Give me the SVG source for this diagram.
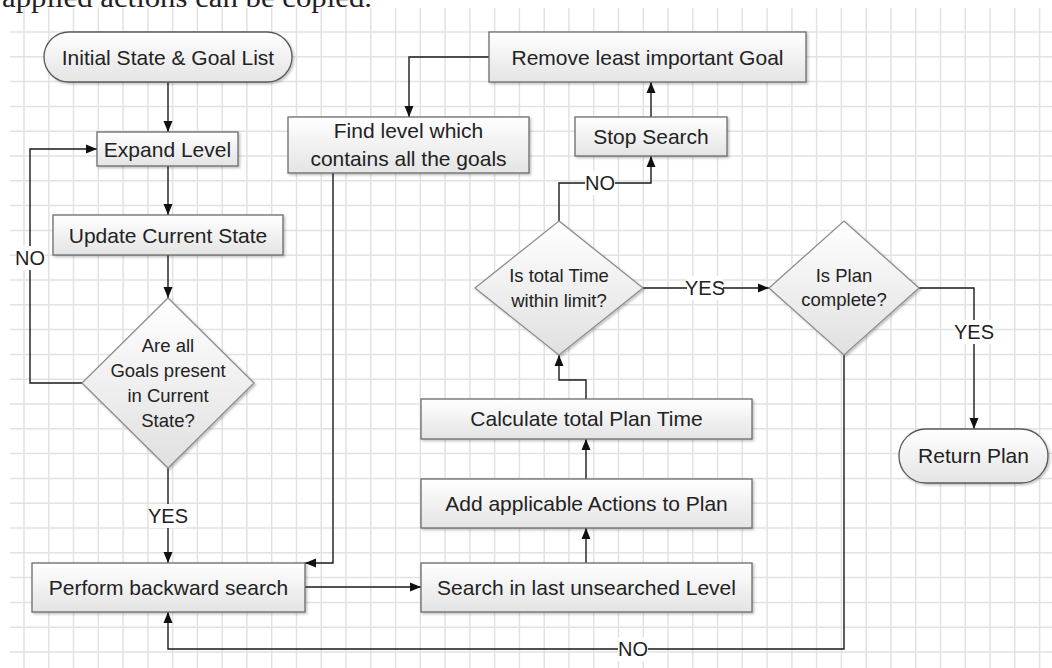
<svg xmlns="http://www.w3.org/2000/svg" width="1052" height="668" viewBox="0 0 1052 668">
<style>
.grid{stroke:#e2e2e2;stroke-width:1.5;fill:none}
.box{fill:url(#gBox);stroke:#6a6a6a;stroke-width:1.3;filter:url(#sh)}
.term{fill:url(#gBox);stroke:#5a5a5a;stroke-width:1.3;filter:url(#sh)}
.dia{fill:url(#gDia);stroke:#8e8e8e;stroke-width:1.3;filter:url(#sh)}
.t{font-family:"Liberation Sans",Arial,sans-serif;font-size:21px;fill:#222;text-anchor:middle}
.td{font-family:"Liberation Sans",Arial,sans-serif;font-size:18.5px;fill:#222;text-anchor:middle}
.lbl{font-family:"Liberation Sans",Arial,sans-serif;font-size:20px;fill:#222;text-anchor:middle}
.c{fill:none;stroke:#1a1a1a;stroke-width:1.4}
.ca{fill:none;stroke:#1a1a1a;stroke-width:1.4;marker-end:url(#arr)}
.bg{fill:#fff}
</style>
<defs>
<linearGradient id="gBox" x1="0" y1="0" x2="0" y2="1"><stop offset="0" stop-color="#ffffff"/><stop offset="1" stop-color="#e4e4e4"/></linearGradient>
<linearGradient id="gDia" x1="0" y1="0" x2="0" y2="1"><stop offset="0" stop-color="#ffffff"/><stop offset="1" stop-color="#e0e0e0"/></linearGradient>
<filter id="sh" x="-10%" y="-10%" width="125%" height="130%"><feDropShadow dx="1.5" dy="1.5" stdDeviation="1.2" flood-color="#000" flood-opacity="0.25"/></filter>
<marker id="arr" markerUnits="userSpaceOnUse" markerWidth="12" markerHeight="10" refX="11" refY="5" orient="auto"><path d="M0,0.5 L11,5 L0,9.5 Z" fill="#111"/></marker>
</defs>
<rect width="1052" height="668" fill="#fff"/>
<text x="2" y="7" font-family="Liberation Serif,serif" font-size="28" fill="#222" textLength="370" lengthAdjust="spacingAndGlyphs">applied actions can be copied.</text>
<g id="grid" class="grid">
<path d="M24,8V668M48.8,8V668M73.5,8V668M98.3,8V668M123.1,8V668M147.9,8V668M172.6,8V668M197.4,8V668M222.2,8V668M246.9,8V668M271.7,8V668M296.5,8V668M321.2,8V668M346,8V668M370.8,8V668M395.6,8V668M420.3,8V668M445.1,8V668M469.9,8V668M494.6,8V668M519.4,8V668M544.2,8V668M568.9,8V668M593.7,8V668M618.5,8V668M643.3,8V668M668,8V668M692.8,8V668M717.6,8V668M742.3,8V668M767.1,8V668M791.9,8V668M816.6,8V668M841.4,8V668M866.2,8V668M891,8V668M915.7,8V668M940.5,8V668M965.3,8V668M990,8V668M1014.8,8V668M1039.6,8V668"/>
<path d="M10,32H1052M10,56.8H1052M10,81.6H1052M10,106.4H1052M10,131.2H1052M10,156H1052M10,180.8H1052M10,205.6H1052M10,230.4H1052M10,255.2H1052M10,280H1052M10,304.8H1052M10,329.6H1052M10,354.4H1052M10,379.2H1052M10,404H1052M10,428.8H1052M10,453.6H1052M10,478.4H1052M10,503.2H1052M10,528H1052M10,552.8H1052M10,577.6H1052M10,602.4H1052M10,627.2H1052M10,652H1052"/>
</g>
<g id="connectors">
<path class="ca" d="M168,82V132"/>
<path class="ca" d="M168,166V215"/>
<path class="ca" d="M168,255V298"/>
<path class="ca" d="M82,383H30V149H97"/>
<path class="ca" d="M168,468V563"/>
<path class="ca" d="M333,173V563H305"/>
<path class="ca" d="M305,587H421"/>
<path class="ca" d="M586,563V528"/>
<path class="ca" d="M586,479V439"/>
<path class="ca" d="M586,399V380H559V355"/>
<path class="ca" d="M559,221V183H651V156"/>
<path class="ca" d="M651,117V82"/>
<path class="ca" d="M489,57H409V117"/>
<path class="ca" d="M643,288H769"/>
<path class="ca" d="M919,288H974V429"/>
<path class="ca" d="M844,355V649H168V612"/>
<rect class="bg" x="16" y="246" width="29" height="24"/>
<text class="lbl" x="30" y="265">NO</text>
<rect class="bg" x="150" y="504" width="36" height="24"/>
<text class="lbl" x="168" y="523">YES</text>
<rect class="bg" x="585" y="171" width="30" height="24"/>
<text class="lbl" x="600" y="190">NO</text>
<rect class="bg" x="687" y="276" width="36" height="24"/>
<text class="lbl" x="705" y="295">YES</text>
<rect class="bg" x="956" y="320" width="36" height="24"/>
<text class="lbl" x="974" y="339">YES</text>
<rect class="bg" x="618" y="637" width="30" height="24"/>
<text class="lbl" x="633" y="656">NO</text>
</g>
<g id="n-initial"><rect class="term" x="44" y="32" width="248" height="50" rx="25"/><text class="t" x="168" y="64.5">Initial State &amp; Goal List</text></g>
<g id="n-expand"><rect class="box" x="97" y="132" width="141" height="34"/><text class="t" x="167.5" y="156.5">Expand Level</text></g>
<g id="n-update"><rect class="box" x="53" y="215" width="230" height="40"/><text class="t" x="168" y="242.5">Update Current State</text></g>
<g id="n-goals"><polygon class="dia" points="168,298 254,383 168,468 82,383"/><text class="td" x="168" y="352">Are all</text><text class="td" x="168" y="377">Goals present</text><text class="td" x="168" y="402">in Current</text><text class="td" x="168" y="427">State?</text></g>
<g id="n-perform"><rect class="box" x="32" y="563" width="273" height="49"/><text class="t" x="168.5" y="595">Perform backward search</text></g>
<g id="n-find"><rect class="box" x="288" y="117" width="241" height="56"/><text class="t" x="408.5" y="137.5">Find level which</text><text class="t" x="408.5" y="165.5">contains all the goals</text></g>
<g id="n-remove"><rect class="box" x="489" y="32" width="317" height="50"/><text class="t" x="647.5" y="64.5">Remove least important Goal</text></g>
<g id="n-stop"><rect class="box" x="575" y="117" width="152" height="39"/><text class="t" x="651" y="143.5">Stop Search</text></g>
<g id="n-time"><polygon class="dia" points="559,221 643,288 559,355 475,288"/><text class="td" x="559" y="281.5">Is total Time</text><text class="td" x="559" y="306.5">within limit?</text></g>
<g id="n-complete"><polygon class="dia" points="844,221 919,288 844,355 769,288"/><text class="td" x="844" y="281.5">Is Plan</text><text class="td" x="844" y="306">complete?</text></g>
<g id="n-return"><rect class="term" x="899" y="429" width="149" height="54" rx="27"/><text class="t" x="973.5" y="463">Return Plan</text></g>
<g id="n-calc"><rect class="box" x="421" y="399" width="331" height="40"/><text class="t" x="586.5" y="426">Calculate total Plan Time</text></g>
<g id="n-add"><rect class="box" x="421" y="479" width="331" height="49"/><text class="t" x="586.5" y="511">Add applicable Actions to Plan</text></g>
<g id="n-search"><rect class="box" x="421" y="563" width="331" height="49"/><text class="t" x="586.5" y="595">Search in last unsearched Level</text></g>
</svg>
